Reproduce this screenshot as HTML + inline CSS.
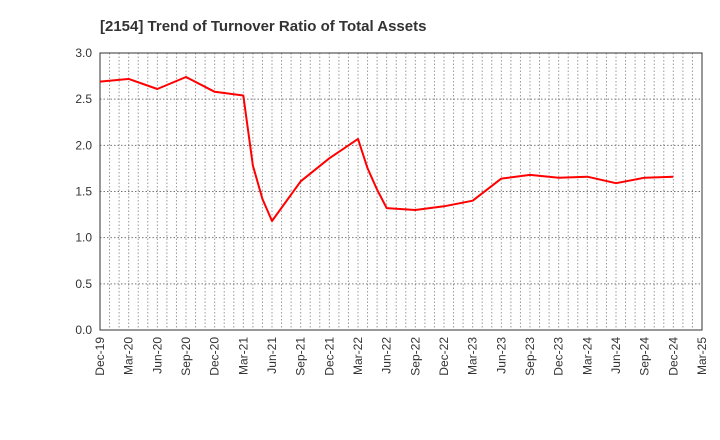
<!DOCTYPE html>
<html><head><meta charset="utf-8"><style>body{margin:0;background:#fff}svg{display:block;font-family:"Liberation Sans",sans-serif}</style></head>
<body>
<svg id="chart" width="720" height="440">
<text x="100" y="31" font-size="15" font-weight="bold" fill="#333">[2154]  Trend of Turnover Ratio of Total Assets</text>
<g id="grid"></g><g id="axes"></g><g id="series"></g>
</svg>
<script>
const monthIdx=[0,3,6,9,12,15,16,17,18,21,24,27,28,29,30,33,36,39,42,45,48,51,54,57,60];
const ratioValues=[2.69,2.72,2.61,2.74,2.58,2.54,1.78,1.42,1.18,1.61,1.86,2.07,1.75,1.52,1.32,1.30,1.34,1.40,1.64,1.68,1.65,1.66,1.59,1.65,1.66];
const xTickLabels=["Dec-19","Mar-20","Jun-20","Sep-20","Dec-20","Mar-21","Jun-21","Sep-21","Dec-21","Mar-22","Jun-22","Sep-22","Dec-22","Mar-23","Jun-23","Sep-23","Dec-23","Mar-24","Jun-24","Sep-24","Dec-24","Mar-25"];
const yTicks=[0,0.5,1,1.5,2,2.5,3];
const NS="http://www.w3.org/2000/svg";
const L=100,R=702,T=53,B=330;
const xs=m=>L+m*(R-L)/63, ys=v=>B-v*(B-T)/3;
function mk(t,a,p){const e=document.createElementNS(NS,t);for(const k in a)e.setAttribute(k,a[k]);p.appendChild(e);return e;}
const grid=document.getElementById('grid'),axes=document.getElementById('axes'),ser=document.getElementById('series');
for(let m=1;m<63;m++){const l=mk('line',{x1:xs(m),x2:xs(m),y1:T,y2:B,stroke:'#999','stroke-dasharray':'1.5,2','stroke-width':1},grid);

}
yTicks.forEach(v=>{if(v>0&&v<3){const l=mk('line',{x1:L,x2:R,y1:ys(v),y2:ys(v),stroke:'#777','stroke-dasharray':'1.5,2','stroke-width':1},grid);

}
const t=mk('text',{x:L-8,y:ys(v)+4,'text-anchor':'end','font-size':12,fill:'#333'},axes);t.textContent=v.toFixed(1);

});
const fr=mk('rect',{x:L,y:T,width:R-L,height:B-T,fill:'none',stroke:'#333','stroke-width':1},axes);


xTickLabels.forEach((s,i)=>{const x=xs(i*3);const t=mk('text',{transform:`translate(${x+4},${B+7}) rotate(-90)`,'text-anchor':'end','font-size':12,fill:'#333'},axes);t.textContent=s;

});
const pts=monthIdx.map((m,i)=>xs(m).toFixed(1)+','+ys(ratioValues[i]).toFixed(1)).join(' ');
const pl=mk('polyline',{points:pts,fill:'none',stroke:'#f00','stroke-width':2,'stroke-linejoin':'round'},ser);


</script>
</body></html>
